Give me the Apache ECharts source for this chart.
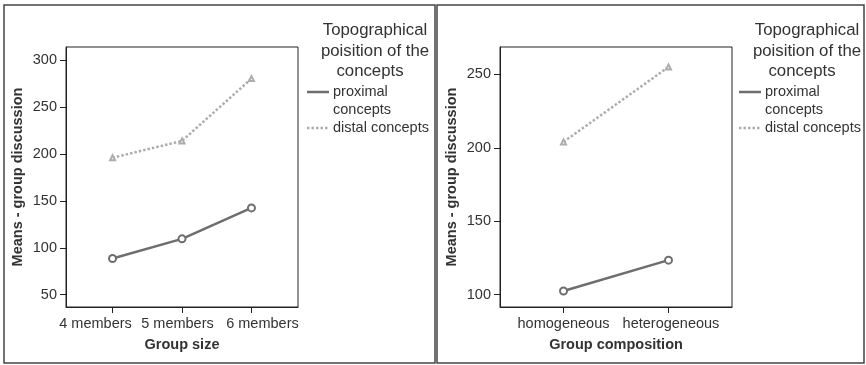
<!DOCTYPE html>
<html>
<head>
<meta charset="utf-8">
<script src="https://cdn.jsdelivr.net/npm/echarts@6/dist/echarts.min.js"></script>
<style>
html,body{margin:0;padding:0;background:#fff;}
#c{width:866px;height:365px;}
</style>
</head>
<body>
<div id="c"></div>
<script>
// ---- data ----
var sizeCategories = ['4 members', '5 members', '6 members'];
var sizeProximal = [88.5, 109.5, 142.5];
var sizeDistal = [196, 214, 280.5];
var sizeYTicks = [50, 100, 150, 200, 250, 300];

var compCategories = ['homogeneous', 'heterogeneous'];
var compProximal = [102.5, 123.5];
var compDistal = [204, 255];
var compYTicks = [100, 150, 200, 250];

var seriesNames = ['proximal concepts', 'distal concepts'];
var legendTitle = ['Topographical', 'poisition of the', 'concepts'];
var legendProximal = ['proximal', 'concepts'];
var legendDistal = ['distal concepts'];
var xNames = ['Group size', 'Group composition'];
var yName = 'Means - group discussion';

// ---- styles ----
var FONT = 'Liberation Sans, Arial, sans-serif';
var TXT = '#333';
var PROX = '#6e6e6e';
var DIST = '#adadad';
// horizontal nudges of category labels (label styling only)
var labelPads = [
  [[0,34,0,0],[0,9,0,0],[0,0,0,22]],
  [[0,0,0,0],[0,0,0,5]]
];

function idx(arr){ return arr.map(function(v,i){ return [i, v]; }); }

function xAxis(gi, cats, pad){
  var vals = cats.map(function(c,i){return i;});
  var rich = {};
  labelPads[gi].forEach(function(p,i){
    rich['l'+i] = {fontFamily:FONT,fontSize:14.5,color:TXT,padding:p};
  });
  return {
    type:'value', gridIndex:gi, min:-pad, max:cats.length-1+pad,
    name:xNames[gi], nameLocation:'middle', nameGap:30,
    nameTextStyle:{fontFamily:FONT,fontSize:14.5,fontWeight:'bold',color:TXT},
    axisLine:{show:true,onZero:false,lineStyle:{color:'#222',width:1}},
    axisTick:{show:true,length:6,customValues:vals,lineStyle:{color:'#222'}},
    axisLabel:{customValues:vals,margin:9,hideOverlap:false,showMinLabel:true,showMaxLabel:true,
      fontFamily:FONT,fontSize:14.5,color:TXT,rich:rich,
      formatter:function(v){ var i=Math.round(v); return '{l'+i+'|'+cats[i]+'}'; }},
    splitLine:{show:false}
  };
}
function yAxis(gi, ticks, mn, mx){
  return {
    type:'value', gridIndex:gi, min:mn, max:mx,
    name:yName, nameLocation:'middle', nameGap:41,
    nameTextStyle:{fontFamily:FONT,fontSize:14.5,fontWeight:'bold',color:TXT},
    axisLine:{show:true,onZero:false,lineStyle:{color:'#222',width:1}},
    axisTick:{show:true,length:6,customValues:ticks,lineStyle:{color:'#222'}},
    axisLabel:{customValues:ticks,margin:9,fontFamily:FONT,fontSize:14.5,color:TXT},
    splitLine:{show:false}
  };
}
function lineSeries(gi, name, data, isProx){
  return {
    type:'line', name:name, xAxisIndex:gi, yAxisIndex:gi, data:idx(data),
    symbol: isProx ? 'emptyCircle' : 'emptyTriangle',
    symbolSize: isProx ? 7 : 5,
    lineStyle:{color: isProx?PROX:DIST, width:2.5, type: isProx?'solid':[2.5,2]},
    itemStyle:{color: isProx?PROX:DIST, borderColor: isProx?PROX:DIST, borderWidth:1.8},
    animation:false, z: isProx?3:2
  };
}

function legendGraphics(cx, lx){
  var g = [];
  var titleY = [30, 51, 71];
  var titleX = [cx, cx, cx-5];
  legendTitle.forEach(function(t,i){
    g.push({type:'text', x:titleX[i], y:titleY[i], style:{text:t, fontFamily:FONT, fontSize:16.8, fill:TXT, align:'center', verticalAlign:'middle'}});
  });
  g.push({type:'line', shape:{x1:lx, y1:92, x2:lx+22, y2:92}, style:{stroke:PROX, lineWidth:2.5}});
  g.push({type:'text', x:lx+26, y:92, style:{text:legendProximal[0], fontFamily:FONT, fontSize:14.5, fill:TXT, align:'left', verticalAlign:'middle'}});
  g.push({type:'text', x:lx+26, y:109.5, style:{text:legendProximal[1], fontFamily:FONT, fontSize:14.5, fill:TXT, align:'left', verticalAlign:'middle'}});
  g.push({type:'line', shape:{x1:lx, y1:128, x2:lx+22, y2:128}, style:{stroke:DIST, lineWidth:2.5, lineDash:[2.5,2]}});
  g.push({type:'text', x:lx+26, y:128, style:{text:legendDistal[0], fontFamily:FONT, fontSize:14.5, fill:TXT, align:'left', verticalAlign:'middle'}});
  return g;
}

var chart = echarts.init(document.getElementById('c'), null, {renderer:'canvas'});
var graphics = [
  {type:'rect', shape:{x:4, y:5, width:431, height:358}, style:{fill:'none', stroke:'#444', lineWidth:1.5}},
  {type:'rect', shape:{x:437, y:5, width:427, height:358}, style:{fill:'none', stroke:'#444', lineWidth:1.5}}
].concat(legendGraphics(375, 307)).concat(legendGraphics(807, 739));

chart.setOption({
  animation:false,
  backgroundColor:'#fff',
  grid:[
    {left:66, top:47, width:232, height:260, show:true, borderColor:'#222', borderWidth:1, backgroundColor:'transparent'},
    {left:500, top:47, width:232, height:260, show:true, borderColor:'#222', borderWidth:1, backgroundColor:'transparent'}
  ],
  xAxis:[ xAxis(0, sizeCategories, 0.67), xAxis(1, compCategories, 0.605) ],
  yAxis:[ yAxis(0, sizeYTicks, 36.8, 314.2), yAxis(1, compYTicks, 91.6, 268.6) ],
  series:[
    lineSeries(0, seriesNames[0], sizeProximal, true),
    lineSeries(0, seriesNames[1], sizeDistal, false),
    lineSeries(1, seriesNames[0], compProximal, true),
    lineSeries(1, seriesNames[1], compDistal, false)
  ],
  graphic: graphics
});
</script>
</body>
</html>
